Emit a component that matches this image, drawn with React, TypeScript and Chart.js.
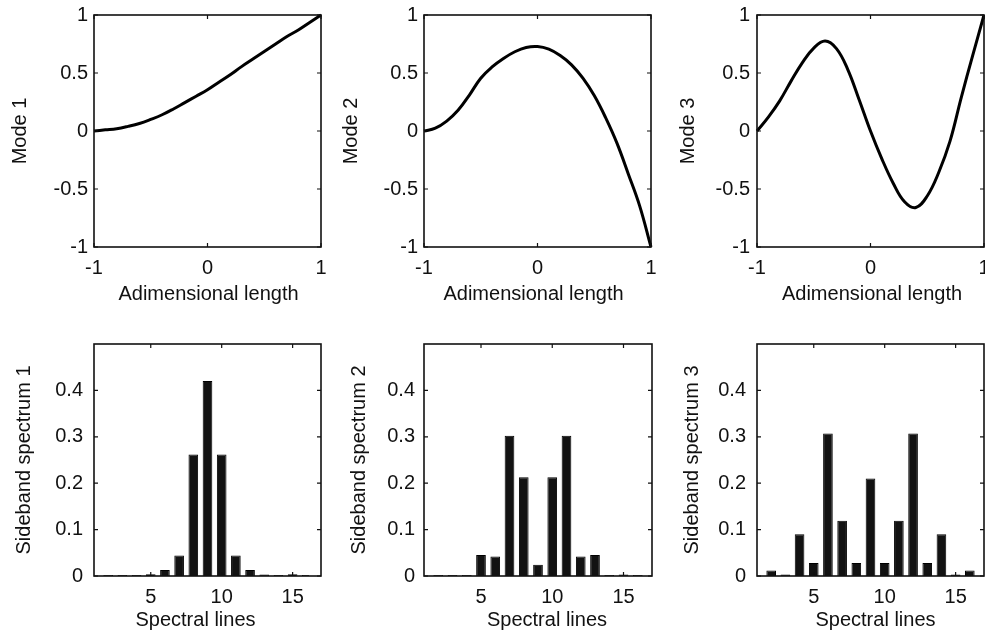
import React, { useEffect, useRef } from "react";
import { Chart, registerables } from "chart.js";

Chart.register(...registerables);

// ---------------- data ----------------
const lengthX = [-1, -0.9, -0.8, -0.7, -0.6, -0.5, -0.4, -0.3, -0.2, -0.1, 0, 0.1, 0.2, 0.3, 0.4, 0.5, 0.6, 0.7, 0.8, 0.9, 1];
const mode1 = [0, 0.01, 0.02, 0.04, 0.065, 0.1, 0.14, 0.19, 0.245, 0.3, 0.355, 0.42, 0.485, 0.555, 0.62, 0.685, 0.75, 0.815, 0.87, 0.935, 1];
const mode2 = [0, 0.024, 0.085, 0.178, 0.31, 0.455, 0.552, 0.625, 0.683, 0.72, 0.728, 0.705, 0.65, 0.57, 0.455, 0.305, 0.115, -0.105, -0.37, -0.645, -1];
const mode3 = [0, 0.12, 0.26, 0.43, 0.59, 0.715, 0.775, 0.71, 0.53, 0.27, 0.0, -0.24, -0.45, -0.61, -0.66, -0.56, -0.36, -0.09, 0.29, 0.65, 1];

const spectralLines = [2, 3, 4, 5, 6, 7, 8, 9, 10, 11, 12, 13, 14, 15, 16];
const sideband1 = [0.002, 0.002, 0.002, 0.004, 0.013, 0.044, 0.262, 0.42, 0.262, 0.044, 0.013, 0.003, 0.002, 0.004, 0.002];
const sideband2 = [0.002, 0.002, 0.002, 0.045, 0.042, 0.302, 0.213, 0.024, 0.213, 0.302, 0.042, 0.045, 0.002, 0.003, 0.002];
const sideband3 = [0.012, 0.003, 0.09, 0.028, 0.307, 0.119, 0.028, 0.21, 0.028, 0.119, 0.307, 0.028, 0.09, 0.003, 0.012];

const modeTicks = [-1, -0.5, 0, 0.5, 1];
const lengthTicks = [-1, 0, 1];
const spectrumTicks = [0, 0.1, 0.2, 0.3, 0.4];
const lineTicks = [5, 10, 15];

// ---------------- styling ----------------
const FONT = '"Liberation Sans", Arial, Helvetica, sans-serif';
const INK = "#111";
const TICK_FONT = { family: FONT, size: 20 };
const TITLE_FONT = { family: FONT, size: 20 };

const boxPlugin = {
  id: "matlabBox",
  afterDatasetsDraw(chart: any) {
    const { ctx, chartArea } = chart;
    const { left, right, top, bottom } = chartArea;
    const xs = chart.scales.x;
    const ys = chart.scales.y;
    ctx.save();
    ctx.strokeStyle = INK;
    ctx.lineWidth = 1.6;
    ctx.strokeRect(left, top, right - left, bottom - top);
    ctx.lineWidth = 1.2;
    const len = 4;
    ctx.beginPath();
    xs.ticks.forEach((t: any) => {
      const p = xs.getPixelForValue(t.value);
      ctx.moveTo(p, bottom);
      ctx.lineTo(p, bottom - len);
      ctx.moveTo(p, top);
      ctx.lineTo(p, top + len);
    });
    ys.ticks.forEach((t: any) => {
      const p = ys.getPixelForValue(t.value);
      ctx.moveTo(left, p);
      ctx.lineTo(left + len, p);
      ctx.moveTo(right, p);
      ctx.lineTo(right - len, p);
    });
    ctx.stroke();
    ctx.restore();
  },
};

const titleShiftPlugin = {
  id: "titleShift",
  afterLayout(chart: any, _args: any, opts: any) {
    const dx = (opts && opts.dx) || 0;
    const xs = chart.scales.x;
    xs.left += dx;
    xs.right += dx;
  },
};

type PanelSpec = {
  kind: "mode" | "spectrum";
  values: number[];
  yTitle: string;
  left: number;
  top: number;
  plotW: number;
  yTitlePad: number;
  yTickPad: number;
  xTitleShift: number;
};

const panels: PanelSpec[] = [
  { kind: "mode", values: mode1, yTitle: "Mode 1", left: 0, top: 0, plotW: 227, yTitlePad: 8, yTickPad: 6, xTitleShift: 1 },
  { kind: "mode", values: mode2, yTitle: "Mode 2", left: 330, top: 0, plotW: 227, yTitlePad: 9, yTickPad: 6, xTitleShift: -4 },
  { kind: "mode", values: mode3, yTitle: "Mode 3", left: 663, top: 0, plotW: 227, yTitlePad: 13, yTickPad: 7, xTitleShift: 1.5 },
  { kind: "spectrum", values: sideband1, yTitle: "Sideband spectrum 1", left: 0, top: 329, plotW: 227, yTitlePad: 12, yTickPad: 11, xTitleShift: -12 },
  { kind: "spectrum", values: sideband2, yTitle: "Sideband spectrum 2", left: 330, top: 329, plotW: 228, yTitlePad: 17, yTickPad: 9, xTitleShift: 9 },
  { kind: "spectrum", values: sideband3, yTitle: "Sideband spectrum 3", left: 663, top: 329, plotW: 227, yTitlePad: 17, yTickPad: 11, xTitleShift: 5 },
];

const LEFT_W = 94;
const TOP_PAD = 15;
const PLOT_H = 232;
const RIGHT_PAD = 20;

function buildConfig(p: PanelSpec): any {
  const isMode = p.kind === "mode";
  const xHeight = isMode ? 63 : 60;
  const xTicks = isMode ? lengthTicks : lineTicks;
  const yTicks = isMode ? modeTicks : spectrumTicks;

  const dataset = isMode
    ? {
        data: lengthX.map((x, i) => ({ x, y: p.values[i] })),
        borderColor: "#000",
        borderWidth: 3,
        pointRadius: 0,
        tension: 0.4,
        fill: false,
        clip: false,
      }
    : {
        data: spectralLines.map((x, i) => ({ x, y: p.values[i] })),
        backgroundColor: "#121212",
        borderColor: "#000",
        borderWidth: 1,
        barPercentage: 0.68,
        categoryPercentage: 1,
      };

  return {
    type: isMode ? "line" : "bar",
    data: { datasets: [dataset] },
    options: {
      animation: false,
      responsive: false,
      events: [],
      layout: { padding: { top: TOP_PAD, right: RIGHT_PAD, left: 0, bottom: 0 } },
      plugins: {
        legend: { display: false },
        tooltip: { enabled: false },
        titleShift: { dx: p.xTitleShift },
      },
      scales: {
        x: {
          type: "linear",
          offset: false,
          min: isMode ? -1 : 1,
          max: isMode ? 1 : 17,
          afterBuildTicks: (s: any) => {
            s.ticks = xTicks.map((v) => ({ value: v }));
          },
          afterFit: (s: any) => {
            s.height = xHeight;
            s.paddingLeft = 0;
            s.paddingRight = 0;
          },
          grid: { display: false, drawTicks: false },
          border: { display: false },
          ticks: {
            autoSkip: false,
            maxRotation: 0,
            padding: 9,
            color: INK,
            font: TICK_FONT,
            callback: (v: any) => String(v),
          },
          title: {
            display: true,
            text: isMode ? "Adimensional length" : "Spectral lines",
            color: INK,
            font: TITLE_FONT,
            padding: { top: 0, bottom: 4 },
          },
        },
        y: {
          type: "linear",
          min: isMode ? -1 : 0,
          max: isMode ? 1 : 0.5,
          afterBuildTicks: (s: any) => {
            s.ticks = yTicks.map((v) => ({ value: v }));
          },
          afterFit: (s: any) => {
            s.width = LEFT_W;
            s.paddingTop = 0;
            s.paddingBottom = 0;
          },
          grid: { display: false, drawTicks: false },
          border: { display: false },
          ticks: {
            autoSkip: false,
            padding: p.yTickPad,
            color: INK,
            font: TICK_FONT,
            callback: (v: any) => String(v),
          },
          title: {
            display: true,
            text: p.yTitle,
            color: INK,
            font: TITLE_FONT,
            padding: { top: p.yTitlePad, bottom: 0 },
          },
        },
      },
    },
    plugins: [boxPlugin, titleShiftPlugin],
  };
}

function Panel({ spec }: { spec: PanelSpec }) {
  const ref = useRef<HTMLCanvasElement>(null);
  const width = LEFT_W + spec.plotW + RIGHT_PAD;
  const height = TOP_PAD + PLOT_H + (spec.kind === "mode" ? 63 : 60);
  useEffect(() => {
    if (!ref.current) return;
    const chart = new Chart(ref.current, buildConfig(spec));
    return () => chart.destroy();
  }, [spec]);
  return (
    <div style={{ position: "absolute", left: spec.left, top: spec.top, width, height }}>
      <canvas ref={ref} width={width} height={height} style={{ width, height, display: "block" }} />
    </div>
  );
}

export default function App() {
  return (
    <div
      style={{
        position: "fixed",
        left: 0,
        top: 0,
        width: 985,
        height: 637,
        overflow: "hidden",
        background: "#fff",
      }}
    >
      {panels.map((p, i) => (
        <Panel key={i} spec={p} />
      ))}
    </div>
  );
}
